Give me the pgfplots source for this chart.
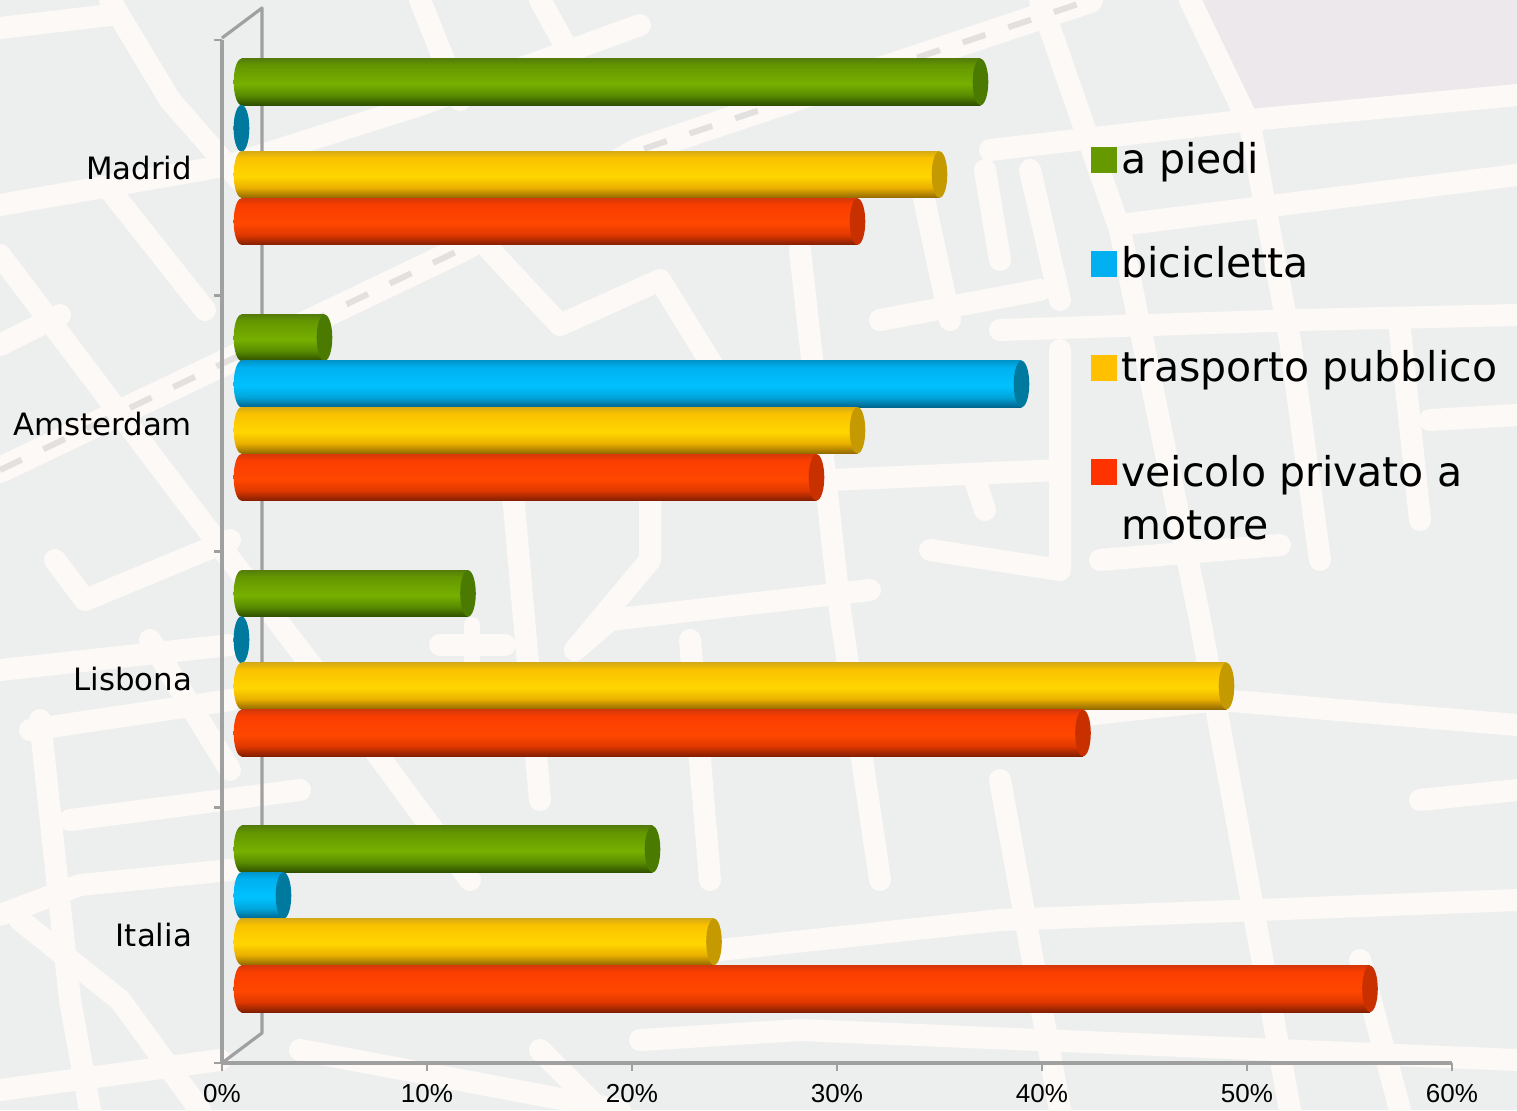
\documentclass[border=0pt]{standalone}
\usepackage{fontspec}
\setmainfont{DejaVu Sans}
\newfontfamily\arialf{Liberation Sans}
\usepackage{pgfplots}
\usepackage{pgfplotstable}
\pgfplotsset{compat=1.18}

\definecolor{mapbg}{HTML}{EDEFEF}
\definecolor{road}{HTML}{FDF9F7}
\definecolor{rail}{HTML}{E3E1DF}
\definecolor{pinkblock}{HTML}{ECE8EB}
\definecolor{axisgray}{HTML}{A0A0A0}
\definecolor{legA}{HTML}{669900}
\definecolor{legB}{HTML}{00B0F0}
\definecolor{legC}{HTML}{FFC000}
\definecolor{legD}{HTML}{FF3300}
\definecolor{capA}{HTML}{4A7A00}
\definecolor{capB}{HTML}{00799F}
\definecolor{capC}{HTML}{C49A00}
\definecolor{capD}{HTML}{C83000}

% bar gradients, bottom to top (25bp..75bp is the height of the bar)
\pgfdeclareverticalshading{shA}{100bp}{rgb(0bp)=(0.18,0.31,0);rgb(25bp)=(0.18,0.31,0);rgb(36bp)=(0.35,0.55,0);rgb(48bp)=(0.47,0.69,0);rgb(68bp)=(0.39,0.59,0);rgb(75bp)=(0.33,0.49,0.04);rgb(100bp)=(0.33,0.49,0.04)}
\pgfdeclareverticalshading{shB}{100bp}{rgb(0bp)=(0,0.39,0.55);rgb(25bp)=(0,0.39,0.55);rgb(36bp)=(0,0.65,0.86);rgb(48bp)=(0,0.76,1);rgb(68bp)=(0,0.69,0.94);rgb(75bp)=(0,0.59,0.8);rgb(100bp)=(0,0.59,0.8)}
\pgfdeclareverticalshading{shC}{100bp}{rgb(0bp)=(0.57,0.41,0);rgb(25bp)=(0.57,0.41,0);rgb(36bp)=(0.92,0.69,0);rgb(48bp)=(1,0.84,0);rgb(68bp)=(0.98,0.76,0);rgb(75bp)=(0.84,0.67,0.08);rgb(100bp)=(0.84,0.67,0.08)}
\pgfdeclareverticalshading{shD}{100bp}{rgb(0bp)=(0.51,0.12,0);rgb(25bp)=(0.51,0.12,0);rgb(36bp)=(0.88,0.22,0);rgb(48bp)=(1,0.28,0);rgb(68bp)=(0.98,0.24,0);rgb(75bp)=(0.84,0.22,0.04);rgb(100bp)=(0.84,0.22,0.04)}

\newcommand\capmarks[1]{%
  \pgfdeclareplotmark{left#1}{\shade[shading=sh#1,draw=none] (0pt,0pt) ellipse [x radius=3.9pt,y radius=11.6pt];}%
  \pgfdeclareplotmark{right#1}{\fill[cap#1,draw=none] (0pt,0pt) ellipse [x radius=3.9pt,y radius=11.6pt];}}
\capmarks{A}\capmarks{B}\capmarks{C}\capmarks{D}

% one row for each place, pos is the category on the y axis
\pgfplotstableread{
pos piedi bici trasporto veicolo
3   37    0    35        31
2   5     39   31        29
1   12    0    49        42
0   21    3    24        56
}\modaldata

% one bar alone, so that the gradient fits it: letter, column, offset, row, row+1
\newcommand\onebar[5]{%
  \addplot[xbar,bar shift=0pt,bar width=23.25pt,draw=none,shading=sh#1,forget plot,
    skip coords between index={0}{#4},skip coords between index={#5}{4}]
    table[x=#2,y expr={\thisrow{pos}+#3}] {\modaldata};
}
% the two ends of the bars of a series: letter, column, offset
\newcommand\barends[3]{%
  \addplot[only marks,mark=left#1,forget plot]
    table[x expr={0.95},y expr={\thisrow{pos}+#3}] {\modaldata};
  \addplot[only marks,mark=right#1,forget plot]
    table[x expr={max(\thisrow{#2},0.95)},y expr={\thisrow{pos}+#3}] {\modaldata};
}

\pgfplotsset{
  squareleg/.style={legend image code/.code={\fill[#1] (-1.5pt,-6.2pt) rectangle (11pt,6.2pt);}},
  squarelegup/.style={legend image code/.code={\fill[#1] (-1.5pt,7.05pt) rectangle (11pt,19.45pt);}},
}

\begin{document}
\begin{tikzpicture}[x=0.5pt,y=-0.5pt]
\path[use as bounding box] (0,0) rectangle (1517,1110);
\clip (0,0) rectangle (1517,1110);
\fill[mapbg] (0,0) rectangle (1517,1110);
\fill[pinkblock] (1190,0) -- (1517,0) -- (1517,90) -- (1245,122) -- cycle;

% the street map behind the chart
\begin{scope}[road,line cap=round,line join=round,line width=11pt]
\draw (0,205) -- (230,165) -- (420,105) -- (640,25);
\draw (110,0) -- (170,100) -- (240,180);
\draw (110,190) -- (205,310);
\draw (0,28) -- (110,15);
\draw (0,255) -- (170,480) -- (330,690) -- (470,880);
\draw (0,345) -- (60,315);
\draw (0,670) -- (230,645);
\draw (55,560) -- (85,600) -- (230,540);
\draw (40,720) -- (70,1000) -- (90,1110);
\draw (30,730) -- (230,700);
\draw (70,820) -- (300,790);
\draw (0,915) -- (80,885) -- (230,870);
\draw (0,1090) -- (220,1060);
\draw (150,640) -- (230,770);
\draw (20,920) -- (120,1000) -- (200,1110);
\draw (490,250) -- (560,325) -- (660,280) -- (740,410);
\draw (510,460) -- (540,800);
\draw (650,470) -- (650,560) -- (575,650);
\draw (575,650) -- (610,620) -- (870,590);
\draw (800,250) -- (840,610) -- (880,880);
\draw (690,640) -- (710,880);
\draw (420,0) -- (460,100);
\draw (540,0) -- (590,90);
\draw (1040,0) -- (1120,230) -- (1200,620) -- (1290,1110);
\draw (1190,0) -- (1250,125) -- (1290,340) -- (1320,560);
\draw (990,150) -- (1250,120) -- (1517,95);
\draw (1120,225) -- (1517,175);
\draw (920,180) -- (950,320);
\draw (985,170) -- (1000,260);
\draw (1030,170) -- (1060,300);
\draw (1000,330) -- (1300,320) -- (1517,315);
\draw (880,320) -- (1040,290);
\draw (830,480) -- (1060,470);
\draw (1060,350) -- (1060,570) -- (930,550);
\draw (975,480) -- (985,510);
\draw (1100,560) -- (1280,545);
\draw (1400,330) -- (1420,520);
\draw (1430,420) -- (1517,415);
\draw (1220,700) -- (1517,725);
\draw (1040,720) -- (1220,700);
\draw (1000,780) -- (1060,1110);
\draw (720,950) -- (1000,920) -- (1517,900);
\draw (300,1050) -- (620,1110);
\draw (540,1050) -- (600,1110);
\draw (640,1040) -- (800,1030) -- (1517,1060);
\draw (1360,960) -- (1400,1110);
\draw (1420,800) -- (1517,790);
\draw (440,645) -- (505,645);
\draw[line width=8pt] (472,625) -- (472,665);
\draw[line width=13pt] (0,470) -- (460,250) -- (640,150) -- (1090,0);
\end{scope}
\draw[rail,line width=3pt,dash pattern=on 12pt off 12pt] (0,470) -- (460,250) -- (640,150) -- (1090,0);

% depth of the chart: the back wall and the floor edge
\draw[axisgray,line width=1.6pt,line join=round] (222,38) -- (262,8) -- (262,1033) -- (222,1063);

\begin{axis}[
    at={(111pt,-531.5pt)},anchor=south west,
    scale only axis,width=615pt,height=511.5pt,
    xmin=0,xmax=60,ymin=-0.5,ymax=3.5,
    axis lines*=left,
    axis line style={axisgray,line width=1.6pt,-},
    tick align=outside,
    tick style={axisgray,line width=1.3pt},
    major tick length=4pt,
    xtick={0,10,...,60},
    xticklabel={\pgfmathprintnumber{\tick}\%},
    xticklabel style={font=\arialf\fontsize{13}{15}\selectfont,/pgf/number format/assume math mode=true,yshift=-3pt},
    ytick={-0.5,0.5,1.5,2.5,3.5},
    yticklabels={},
    extra y ticks={0,1,2,3},
    extra y tick labels={Italia,Lisbona,Amsterdam,Madrid},
    extra y tick style={major tick length=0pt,
      yticklabel style={font=\fontsize{15.4}{18}\selectfont,xshift=-11.5pt}},
]
\addplot[draw=none,forget plot] coordinates {(0,0)};
\end{axis}

\begin{axis}[
    at={(120.7375pt,-531.5pt)},anchor=south west,
    scale only axis,width=605.26pt,height=511.5pt,
    xmin=0.95,xmax=60,ymin=-0.5,ymax=3.5,
    hide axis,
    clip mode=individual,
    legend style={at={(0.6968,0.908)},anchor=north west,draw=none,fill=none,
      font=\fontsize{20.5}{26.5}\selectfont,row sep=31pt,
      nodes={align=left}},
    legend cell align=left,
]
\onebar{A}{piedi}{0.336}{0}{1}
\onebar{A}{piedi}{0.336}{1}{2}
\onebar{A}{piedi}{0.336}{2}{3}
\onebar{A}{piedi}{0.336}{3}{4}
\barends{A}{piedi}{0.336}
% bicicletta is 0 in Madrid and Lisbona, only the ends show there
\onebar{B}{bici}{0.155}{1}{2}
\onebar{B}{bici}{0.155}{3}{4}
\barends{B}{bici}{0.155}
\onebar{C}{trasporto}{-0.026}{0}{1}
\onebar{C}{trasporto}{-0.026}{1}{2}
\onebar{C}{trasporto}{-0.026}{2}{3}
\onebar{C}{trasporto}{-0.026}{3}{4}
\barends{C}{trasporto}{-0.026}
\onebar{D}{veicolo}{-0.21}{0}{1}
\onebar{D}{veicolo}{-0.21}{1}{2}
\onebar{D}{veicolo}{-0.21}{2}{3}
\onebar{D}{veicolo}{-0.21}{3}{4}
\barends{D}{veicolo}{-0.21}
\addlegendimage{squareleg=legA}
\addlegendentry{a piedi}
\addlegendimage{squareleg=legB}
\addlegendentry{bicicletta}
\addlegendimage{squareleg=legC}
\addlegendentry{trasporto pubblico}
\addlegendimage{squarelegup=legD}
\addlegendentry{veicolo privato a\\motore}
\end{axis}
\end{tikzpicture}
\end{document}
